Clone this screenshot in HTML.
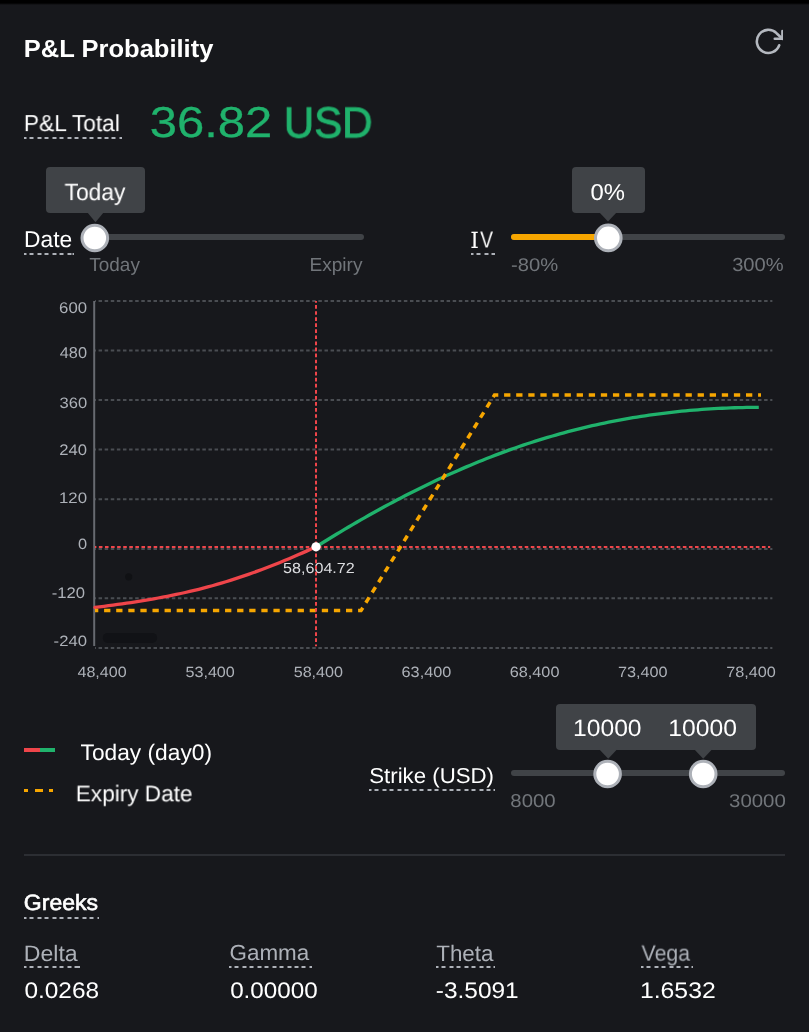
<!DOCTYPE html>
<html><head><meta charset="utf-8"><title>P&amp;L Probability</title>
<style>
html,body{margin:0;padding:0;background:#17181c;}
body{width:809px;height:1032px;position:relative;overflow:hidden;font-family:"Liberation Sans",Arial,sans-serif;}
.abs{position:absolute;display:block;}
.t{position:absolute;left:0;top:0;white-space:nowrap;transform-origin:0 0;will-change:transform;text-rendering:geometricPrecision;}
.ul{position:absolute;height:2px;}
.tip{position:absolute;background:#404347;border-radius:4px;}
.trk{position:absolute;border-radius:3px;}
</style></head><body>
<div class="abs" style="left:0;top:0;width:809px;height:5px;background:linear-gradient(#000 0,#000 3px,rgba(0,0,0,0) 5px)"></div>
<svg class="abs" style="left:752.64px;top:25.94px" width="30.72" height="30.72" viewBox="0 0 24 24" fill="none" stroke="#b4b8bf" stroke-width="2" stroke-linecap="round" stroke-linejoin="round">
<polyline points="23 4 23 10 17 10"/><path d="M20.49 15a9 9 0 1 1-2.12-9.36L23 10"/></svg>
<div class="ul" style="left:24.3px;top:137.0px;width:97.3px;background:repeating-linear-gradient(90deg,#adb1b8 0 4.0px,transparent 4.0px 7.45px);background-position:-1.5px 0"></div>
<div class="ul" style="left:24.3px;top:253.0px;width:49.5px;background:repeating-linear-gradient(90deg,#adb1b8 0 4.0px,transparent 4.0px 7.45px);background-position:-1.5px 0"></div>
<div class="ul" style="left:470.5px;top:253.4px;width:24.5px;background:repeating-linear-gradient(90deg,#adb1b8 0 4.0px,transparent 4.0px 7.45px);background-position:-1.5px 0"></div>
<div class="ul" style="left:369.3px;top:789.2px;width:125.7px;background:repeating-linear-gradient(90deg,#adb1b8 0 4.0px,transparent 4.0px 7.45px);background-position:-1.5px 0"></div>
<div class="ul" style="left:24.3px;top:916.6px;width:74.7px;background:repeating-linear-gradient(90deg,#adb1b8 0 4.0px,transparent 4.0px 7.45px);background-position:-1.5px 0"></div>
<div class="ul" style="left:24.3px;top:966.0px;width:55.6px;background:repeating-linear-gradient(90deg,#adb1b8 0 4.0px,transparent 4.0px 7.45px);background-position:-1.5px 0"></div>
<div class="ul" style="left:229.3px;top:966.0px;width:82.8px;background:repeating-linear-gradient(90deg,#adb1b8 0 4.0px,transparent 4.0px 7.45px);background-position:-1.5px 0"></div>
<div class="ul" style="left:435.6px;top:966.0px;width:59.6px;background:repeating-linear-gradient(90deg,#adb1b8 0 4.0px,transparent 4.0px 7.45px);background-position:-1.5px 0"></div>
<div class="ul" style="left:640.6px;top:966.0px;width:52.4px;background:repeating-linear-gradient(90deg,#adb1b8 0 4.0px,transparent 4.0px 7.45px);background-position:-1.5px 0"></div>
<div class="tip" style="left:45.7px;top:167.0px;width:99.3px;height:46.0px"></div><svg class="abs" style="left:85.6px;top:212.0px" width="19.0" height="11.3"><path d="M1,0 L18.0,0 L9.5,10.3 Z" fill="#404347"/></svg>
<div class="trk" style="left:92.0px;top:233.5px;width:271.8px;height:6px;background:#404347"></div>
<svg class="abs thumb" style="left:79px;top:222px" width="32" height="32" viewBox="79 222 32 32"><circle cx="94.8" cy="238" r="12.80" fill="#fff" stroke="#adb1b8" stroke-width="3.0"/></svg>
<div class="tip" style="left:572.0px;top:166.8px;width:72.7px;height:46.6px"></div><svg class="abs" style="left:598.2px;top:212.4px" width="20.0" height="10.4"><path d="M1,0 L19.0,0 L10.0,9.4 Z" fill="#404347"/></svg>
<div class="trk" style="left:510.7px;top:233.6px;width:274.3px;height:6px;background:#404347"></div>
<div class="trk" style="left:510.7px;top:233.9px;width:98.3px;height:6px;background:#f7a600"></div>
<svg class="abs thumb" style="left:593px;top:222px" width="32" height="32" viewBox="593 222 32 32"><circle cx="608.3" cy="237.9" r="12.80" fill="#fff" stroke="#adb1b8" stroke-width="3.0"/></svg>
<div class="tip" style="left:555.7px;top:703.9px;width:200.7px;height:45.7px"></div><svg class="abs" style="left:598.1px;top:748.6px" width="20.4" height="10.7"><path d="M1,0 L19.4,0 L10.2,9.7 Z" fill="#404347"/></svg><svg class="abs" style="left:693.0px;top:748.6px" width="20.4" height="10.7"><path d="M1,0 L19.4,0 L10.2,9.7 Z" fill="#404347"/></svg>
<div class="trk" style="left:510.6px;top:769.9px;width:274.4px;height:6px;background:#404347"></div>
<svg class="abs thumb" style="left:592px;top:758px" width="32" height="32" viewBox="592 758 32 32"><circle cx="607.6" cy="774" r="12.80" fill="#fff" stroke="#adb1b8" stroke-width="3.0"/></svg>
<svg class="abs thumb" style="left:687px;top:758px" width="32" height="32" viewBox="687 758 32 32"><circle cx="703.2" cy="774" r="12.80" fill="#fff" stroke="#adb1b8" stroke-width="3.0"/></svg>
<div class="abs" style="left:24.1px;top:748.3px;width:15.6px;height:4.2px;background:#ef454a"></div>
<div class="abs" style="left:39.7px;top:748.3px;width:15.4px;height:4.2px;background:#20b26c"></div>
<div class="abs" style="left:24.1px;top:788.9px;width:4.1px;height:3.5px;background:#f7a600"></div>
<div class="abs" style="left:35px;top:788.9px;width:7.7px;height:3.5px;background:#f7a600"></div>
<div class="abs" style="left:49.1px;top:788.9px;width:4.0px;height:3.5px;background:#f7a600"></div>
<div class="abs" style="left:24.1px;top:854px;width:760.9px;height:1.6px;background:#2c2e33"></div>
<svg class="abs" style="left:0;top:0" width="809" height="1032" viewBox="0 0 809 1032">
<line x1="95" y1="301.0" x2="772.4" y2="301.0" stroke="#4a4d52" stroke-width="2" stroke-dasharray="3.5 2.606" stroke-dashoffset="2.556"/>
<line x1="95" y1="350.5" x2="772.4" y2="350.5" stroke="#4a4d52" stroke-width="2" stroke-dasharray="3.5 2.606" stroke-dashoffset="2.556"/>
<line x1="95" y1="400.1" x2="772.4" y2="400.1" stroke="#4a4d52" stroke-width="2" stroke-dasharray="3.5 2.606" stroke-dashoffset="2.556"/>
<line x1="95" y1="449.6" x2="772.4" y2="449.6" stroke="#4a4d52" stroke-width="2" stroke-dasharray="3.5 2.606" stroke-dashoffset="2.556"/>
<line x1="95" y1="499.2" x2="772.4" y2="499.2" stroke="#4a4d52" stroke-width="2" stroke-dasharray="3.5 2.606" stroke-dashoffset="2.556"/>
<line x1="95" y1="548.9" x2="772.4" y2="548.9" stroke="#4a4d52" stroke-width="2" stroke-dasharray="3.5 2.606" stroke-dashoffset="2.556"/>
<line x1="95" y1="598.2" x2="772.4" y2="598.2" stroke="#4a4d52" stroke-width="2" stroke-dasharray="3.5 2.606" stroke-dashoffset="2.556"/>
<line x1="95" y1="648.0" x2="772.4" y2="648.0" stroke="#4a4d52" stroke-width="2" stroke-dasharray="3.5 2.606" stroke-dashoffset="2.556"/>
<line x1="94.2" y1="301" x2="94.2" y2="646" stroke="#676a70" stroke-width="2"/>
<line x1="95" y1="546.9" x2="770.2" y2="546.9" stroke="#ef454a" stroke-width="2" stroke-dasharray="3.6 2.483" stroke-dashoffset="2.21"/>
<path d="M95.00,607.47 L99.51,606.90 L104.02,606.31 L108.54,605.72 L113.05,605.11 L117.56,604.48 L122.07,603.84 L126.59,603.19 L131.10,602.51 L135.61,601.82 L140.12,601.10 L144.63,600.36 L149.15,599.60 L153.66,598.81 L158.17,598.00 L162.68,597.16 L167.20,596.29 L171.71,595.39 L176.22,594.46 L180.73,593.49 L185.24,592.50 L189.76,591.46 L194.27,590.39 L198.78,589.28 L203.29,588.14 L207.81,586.95 L212.32,585.72 L216.83,584.44 L221.34,583.13 L225.86,581.77 L230.37,580.37 L234.88,578.93 L239.39,577.44 L243.90,575.92 L248.42,574.36 L252.93,572.76 L257.44,571.12 L261.95,569.45 L266.47,567.74 L270.98,566.00 L275.49,564.22 L280.00,562.41 L284.51,560.56 L289.03,558.69 L293.54,556.78 L298.05,554.84 L302.56,552.87 L307.08,550.87 L311.59,548.85 L316.10,546.80" fill="none" stroke="#ef454a" stroke-width="3.3" stroke-linecap="round"/>
<path d="M316.10,546.81 L320.16,544.26 L324.22,541.73 L328.28,539.23 L332.35,536.74 L336.41,534.27 L340.47,531.83 L344.53,529.40 L348.59,526.99 L352.65,524.61 L356.71,522.25 L360.78,519.90 L364.84,517.58 L368.90,515.28 L372.96,513.01 L377.02,510.75 L381.08,508.52 L385.14,506.30 L389.21,504.11 L393.27,501.95 L397.33,499.80 L401.39,497.68 L405.45,495.58 L409.51,493.50 L413.58,491.45 L417.64,489.41 L421.70,487.41 L425.76,485.42 L429.82,483.46 L433.88,481.52 L437.94,479.61 L442.01,477.72 L446.07,475.85 L450.13,474.01 L454.19,472.19 L458.25,470.40 L462.31,468.63 L466.37,466.89 L470.44,465.17 L474.50,463.47 L478.56,461.81 L482.62,460.16 L486.68,458.54 L490.74,456.95 L494.80,455.38 L498.87,453.84 L502.93,452.33 L506.99,450.84 L511.05,449.38 L515.11,447.94 L519.17,446.53 L523.23,445.15 L527.30,443.79 L531.36,442.46 L535.42,441.16 L539.48,439.88 L543.54,438.64 L547.60,437.42 L551.67,436.22 L555.73,435.05 L559.79,433.91 L563.85,432.80 L567.91,431.71 L571.97,430.64 L576.03,429.61 L580.10,428.59 L584.16,427.61 L588.22,426.65 L592.28,425.71 L596.34,424.80 L600.40,423.92 L604.46,423.05 L608.53,422.22 L612.59,421.41 L616.65,420.62 L620.71,419.86 L624.77,419.12 L628.83,418.40 L632.89,417.71 L636.96,417.05 L641.02,416.40 L645.08,415.78 L649.14,415.18 L653.20,414.61 L657.26,414.06 L661.32,413.53 L665.39,413.02 L669.45,412.54 L673.51,412.08 L677.57,411.64 L681.63,411.23 L685.69,410.83 L689.76,410.46 L693.82,410.11 L697.88,409.78 L701.94,409.47 L706.00,409.18 L710.06,408.91 L714.12,408.67 L718.19,408.44 L722.25,408.24 L726.31,408.06 L730.37,407.89 L734.43,407.75 L738.49,407.63 L742.55,407.53 L746.62,407.44 L750.68,407.38 L754.74,407.33 L758.80,407.31" fill="none" stroke="#20b26c" stroke-width="3.3" stroke-linecap="butt"/>
<path d="M95,610.6 L361,610.6 L494.5,395 L761,395" fill="none" stroke="#f7a600" stroke-width="3.5" stroke-dasharray="6.3 5.795" stroke-dashoffset="3"/>
<circle cx="128.7" cy="576.8" r="3.6" fill="#101114"/>
<rect x="102.8" y="632.9" width="54.3" height="10" rx="5" fill="#111216"/>
</svg>
<div class="t" id="title" style="font-size:24.75px;line-height:24.75px;font-weight:700;color:#ffffff;transform:translate(23.80px,37.50px) scaleX(1.0314)">P&amp;L Probability</div>
<div class="t" id="pltot" style="font-size:23.18px;line-height:23.18px;font-weight:400;color:#ffffff;transform:translate(23.82px,112.10px) scaleX(0.9814)">P&amp;L Total</div>
<div class="t" id="pnl" style="font-size:43.27px;line-height:43.27px;font-weight:400;color:#20b26c;transform:translate(149.77px,102.32px) scaleX(1.1315);-webkit-text-stroke:0.30px #20b26c">36.82</div>
<div class="t" id="pnl2" style="font-size:43.27px;line-height:43.27px;font-weight:400;color:#20b26c;transform:translate(283.77px,102.32px) scaleX(0.9730);-webkit-text-stroke:0.91px #20b26c">USD</div>
<div class="t" id="tip1" style="font-size:23.75px;line-height:23.75px;font-weight:400;color:#ffffff;transform:translate(64.54px,181.10px) scaleX(0.9602)">Today</div>
<div class="t" id="date" style="font-size:22.76px;line-height:22.76px;font-weight:400;color:#ffffff;transform:translate(24.12px,228.40px) scaleX(1.0007)">Date</div>
<div class="t" id="dtoday" style="font-size:18.92px;line-height:18.92px;font-weight:400;color:#71757a;transform:translate(89.30px,257.10px) scaleX(1.0024)">Today</div>
<div class="t" id="dexp" style="font-size:18.92px;line-height:18.92px;font-weight:400;color:#71757a;transform:translate(309.41px,257.40px) scaleX(1.0103)">Expiry</div>
<div class="t" id="tip2" style="font-size:22.96px;line-height:22.96px;font-weight:400;color:#ffffff;transform:translate(590.56px,180.84px) scaleX(1.0384)">0%</div>
<div class="t" id="iv1" style="font-size:22.33px;line-height:22.33px;font-weight:400;color:#ffffff;transform:translate(470.35px,229.50px) scaleX(1.0958);font-family:'DejaVu Serif Condensed',serif">I</div>
<div class="t" id="iv2" style="font-size:22.76px;line-height:22.76px;font-weight:400;color:#ffffff;transform:translate(480.20px,228.40px) scaleX(0.8438)">V</div>
<div class="t" id="m80" style="font-size:18.37px;line-height:18.37px;font-weight:400;color:#71757a;transform:translate(510.97px,255.61px) scaleX(1.0993)">-80%</div>
<div class="t" id="p300" style="font-size:18.92px;line-height:18.92px;font-weight:400;color:#71757a;transform:translate(732.17px,257.00px) scaleX(1.0648)">300%</div>
<div class="t" id="y600" style="font-size:15.58px;line-height:15.58px;font-weight:400;color:#adb1b8;transform:translate(59.12px,300.66px) scaleX(1.0731)">600</div>
<div class="t" id="y480" style="font-size:15.72px;line-height:15.72px;font-weight:400;color:#adb1b8;transform:translate(59.74px,345.95px) scaleX(1.0393)">480</div>
<div class="t" id="y360" style="font-size:15.03px;line-height:15.03px;font-weight:400;color:#adb1b8;transform:translate(59.48px,395.67px) scaleX(1.1021)">360</div>
<div class="t" id="y240" style="font-size:15.30px;line-height:15.30px;font-weight:400;color:#adb1b8;transform:translate(59.22px,443.26px) scaleX(1.0886)">240</div>
<div class="t" id="y120" style="font-size:15.17px;line-height:15.17px;font-weight:400;color:#adb1b8;transform:translate(58.95px,490.66px) scaleX(1.1094)">120</div>
<div class="t" id="y0" style="font-size:14.89px;line-height:14.89px;font-weight:400;color:#adb1b8;transform:translate(77.89px,537.67px) scaleX(1.1016)">0</div>
<div class="t" id="ym120" style="font-size:15.30px;line-height:15.30px;font-weight:400;color:#adb1b8;transform:translate(51.78px,586.46px) scaleX(1.0883)">-120</div>
<div class="t" id="ym240" style="font-size:14.89px;line-height:14.89px;font-weight:400;color:#adb1b8;transform:translate(53.58px,634.67px) scaleX(1.1222)">-240</div>
<div class="t" id="x0" style="font-size:14.89px;line-height:14.89px;font-weight:400;color:#adb1b8;transform:translate(77.50px,666.07px) scaleX(1.0795)">48,400</div>
<div class="t" id="x1" style="font-size:14.89px;line-height:14.89px;font-weight:400;color:#adb1b8;transform:translate(185.45px,666.07px) scaleX(1.0851)">53,400</div>
<div class="t" id="x2" style="font-size:14.89px;line-height:14.89px;font-weight:400;color:#adb1b8;transform:translate(293.65px,666.07px) scaleX(1.0851)">58,400</div>
<div class="t" id="x3" style="font-size:14.89px;line-height:14.89px;font-weight:400;color:#adb1b8;transform:translate(401.59px,666.07px) scaleX(1.0908)">63,400</div>
<div class="t" id="x4" style="font-size:14.89px;line-height:14.89px;font-weight:400;color:#adb1b8;transform:translate(509.79px,666.07px) scaleX(1.0908)">68,400</div>
<div class="t" id="x5" style="font-size:14.89px;line-height:14.89px;font-weight:400;color:#adb1b8;transform:translate(617.99px,666.07px) scaleX(1.0908)">73,400</div>
<div class="t" id="x6" style="font-size:14.89px;line-height:14.89px;font-weight:400;color:#adb1b8;transform:translate(726.19px,666.07px) scaleX(1.0908)">78,400</div>
<div class="t" id="cross" style="font-size:14.61px;line-height:14.61px;font-weight:400;color:#dcdde0;transform:translate(283.10px,562.27px) scaleX(1.1026)">58,604.72</div>
<div class="t" id="leg1" style="font-size:22.47px;line-height:22.47px;font-weight:400;color:#ffffff;transform:translate(80.54px,741.70px) scaleX(1.0118)">Today (day0)</div>
<div class="t" id="leg2" style="font-size:22.61px;line-height:22.61px;font-weight:400;color:#ffffff;transform:translate(75.73px,783.30px) scaleX(0.9992)">Expiry Date</div>
<div class="t" id="strike" style="font-size:21.57px;line-height:21.57px;font-weight:400;color:#ffffff;transform:translate(369.20px,765.36px) scaleX(1.0317)">Strike (USD)</div>
<div class="t" id="k1" style="font-size:23.51px;line-height:23.51px;font-weight:400;color:#ffffff;transform:translate(573.06px,717.13px) scaleX(1.0485)">10000</div>
<div class="t" id="k2" style="font-size:23.51px;line-height:23.51px;font-weight:400;color:#ffffff;transform:translate(668.36px,717.13px) scaleX(1.0501)">10000</div>
<div class="t" id="s8000" style="font-size:18.50px;line-height:18.50px;font-weight:400;color:#71757a;transform:translate(510.36px,792.11px) scaleX(1.1015)">8000</div>
<div class="t" id="s30000" style="font-size:18.37px;line-height:18.37px;font-weight:400;color:#71757a;transform:translate(729.06px,792.21px) scaleX(1.1112)">30000</div>
<div class="t" id="greeks" style="font-size:22.12px;line-height:22.12px;font-weight:400;color:#ffffff;transform:translate(23.82px,892.45px) scaleX(1.0406);-webkit-text-stroke:0.62px #ffffff">Greeks</div>
<div class="t" id="gd" style="font-size:22.33px;line-height:22.33px;font-weight:400;color:#adb1b8;transform:translate(23.80px,942.60px) scaleX(1.0332)">Delta</div>
<div class="t" id="gg" style="font-size:21.84px;line-height:21.84px;font-weight:400;color:#adb1b8;transform:translate(229.55px,941.96px) scaleX(1.0261)">Gamma</div>
<div class="t" id="gt" style="font-size:22.33px;line-height:22.33px;font-weight:400;color:#adb1b8;transform:translate(436.25px,942.60px) scaleX(1.0019)">Theta</div>
<div class="t" id="gv" style="font-size:22.33px;line-height:22.33px;font-weight:400;color:#adb1b8;transform:translate(641.50px,942.60px) scaleX(0.9538)">Vega</div>
<div class="t" id="vd" style="font-size:22.54px;line-height:22.54px;font-weight:400;color:#ffffff;transform:translate(24.44px,980.15px) scaleX(1.0829)">0.0268</div>
<div class="t" id="vg" style="font-size:22.54px;line-height:22.54px;font-weight:400;color:#ffffff;transform:translate(230.14px,980.15px) scaleX(1.0747)">0.00000</div>
<div class="t" id="vt" style="font-size:22.54px;line-height:22.54px;font-weight:400;color:#ffffff;transform:translate(435.84px,980.15px) scaleX(1.0838)">-3.5091</div>
<div class="t" id="vv" style="font-size:22.54px;line-height:22.54px;font-weight:400;color:#ffffff;transform:translate(639.95px,980.15px) scaleX(1.0988)">1.6532</div>
<svg class="abs" style="left:0;top:0" width="809" height="1032" viewBox="0 0 809 1032">
<line x1="316" y1="301" x2="316" y2="646.2" stroke="#ef454a" stroke-width="2" stroke-dasharray="3.7 2.359" stroke-dashoffset="1.96"/>
<circle cx="316" cy="546.8" r="4.6" fill="#ffffff"/>
</svg>
</body></html>
